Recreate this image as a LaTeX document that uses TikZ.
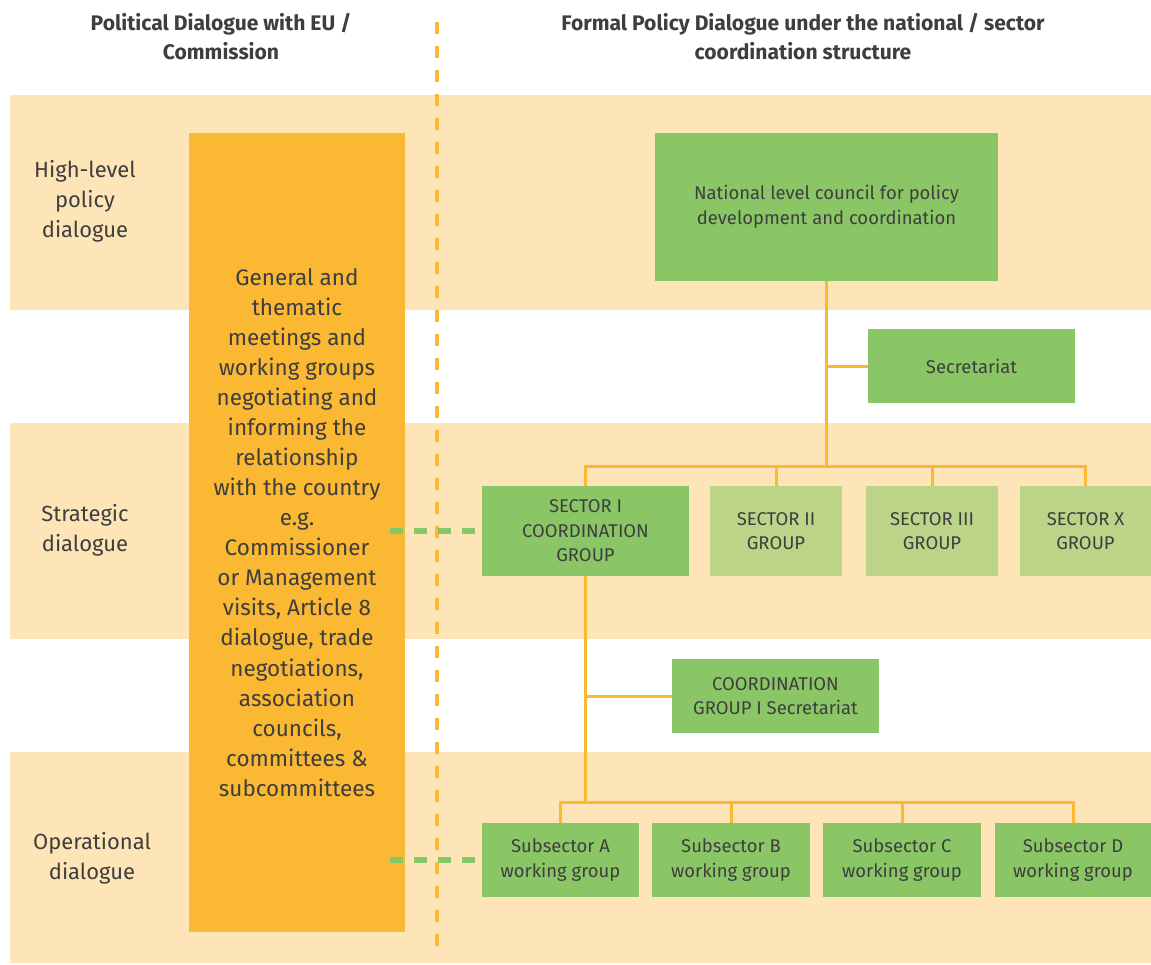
\documentclass[tikz,border=0pt]{standalone}
\usepackage{fontspec}
\setmainfont{Fira Sans}
\usepackage{tikz}

\definecolor{bandcol}{HTML}{FDE5B8}
\definecolor{orangecol}{HTML}{FBB833}
\definecolor{greencol}{HTML}{8AC665}
\definecolor{lightgreen}{HTML}{BBD488}
\definecolor{textcol}{HTML}{3E3E3E}

\tikzset{
	band/.style={fill=bandcol, draw=none},
	gbox/.style={draw=none, fill=greencol, text=textcol, align=center, inner sep=0pt,
		font=\fontsize{10.5}{14}\selectfont},
	lgbox/.style={gbox, fill=lightgreen},
	wire/.style={draw=orangecol, line width=1.7pt},
	gdash/.style={draw=greencol, line width=3.2pt, dash pattern=on 0.26cm off 0.22cm},
	levellabel/.style={text=textcol, align=center, font=\fontsize{12.5}{17}\selectfont},
	header/.style={text=textcol, align=center, font=\fontsize{12}{16.5}\selectfont\bfseries}
}

\begin{document}
\begin{tikzpicture}[x=0.02cm, y=-0.02cm]
				\useasboundingbox (0, 0) rectangle (1151, 964);
				% Bands:
				\fill[band] (10, 95) rectangle (1151, 310);
				\fill[band] (10, 423) rectangle (1151, 639);
				\fill[band] (10, 752) rectangle (1151, 963);
				% Headers and level labels:
				\node[header](H1) at (221, 37){Political Dialogue with EU /\\Commission};
				\node[header](H2) at (803, 37){Formal Policy Dialogue under the national / sector\\coordination structure};
				\node[levellabel](L1) at (85, 201){High-level\\policy\\dialogue};
				\node[levellabel](L2) at (85, 530){Strategic\\dialogue};
				\node[levellabel](L3) at (92, 858){Operational\\dialogue};
				% EU box:
				\node[fill=orangecol, text=textcol, align=center, inner sep=0pt, minimum width=4.32cm, minimum height=15.98cm,
					font=\fontsize{12.8}{17.1}\selectfont](EU) at (297, 532.5){General and\\thematic\\meetings and\\working groups\\negotiating and\\informing the\\relationship\\with the country\\e.g.\\Commissioner\\or Management\\visits, Article 8\\dialogue, trade\\negotiations,\\association\\councils,\\committees \&\\subcommittees};
				\coordinate (top) at (437, 22);
				\coordinate (bottom) at (437, 952);
				\draw[draw=orangecol, line width=2.3pt, dash pattern=on 0.24cm off 0.24cm] (top) -- (bottom);
				% National structure:
				\node[gbox, minimum width=6.86cm, minimum height=2.96cm](NC) at (826.5, 207){National level council for policy\\development and coordination};
				\node[gbox, minimum width=4.14cm, minimum height=1.48cm](SEC) at (971.5, 366){Secretariat};
				\node[gbox, minimum width=4.14cm, minimum height=1.8cm](S1) at (585.5, 531){SECTOR I\\COORDINATION\\GROUP};
				\node[lgbox, minimum width=2.64cm, minimum height=1.8cm](S2) at (776, 531){SECTOR II\\GROUP};
				\node[lgbox, minimum width=2.64cm, minimum height=1.8cm](S3) at (932, 531){SECTOR III\\GROUP};
				\node[lgbox, minimum width=2.62cm, minimum height=1.8cm](SX) at (1085.5, 531){SECTOR X\\GROUP};
				\node[gbox, minimum width=4.14cm, minimum height=1.48cm](CGS) at (775.5, 696){COORDINATION\\GROUP I Secretariat};
				\node[gbox, minimum width=3.14cm, minimum height=1.48cm](SA) at (560.5, 860){Subsector A\\working group};
				\node[gbox, minimum width=3.16cm, minimum height=1.48cm](SB) at (731, 860){Subsector B\\working group};
				\node[gbox, minimum width=3.16cm, minimum height=1.48cm](SC) at (902, 860){Subsector C\\working group};
				\node[gbox, minimum width=3.12cm, minimum height=1.48cm](SD) at (1073, 860){Subsector D\\working group};
				% Wires:
				\coordinate (bus1) at (826.5, 466);
				\coordinate (bus2) at (585.5, 802);
				\draw[wire] (NC.south) -- (bus1);
				\draw[wire] (NC.south |- SEC.west) -- (SEC.west);
				\draw[wire] (S1.north) -- (S1.north |- bus1) -| (SX.north);
				\draw[wire] (S2.north) -- (S2.north |- bus1);
				\draw[wire] (S3.north) -- (S3.north |- bus1);
				\draw[wire] (S1.south) -- (bus2);
				\draw[wire] (S1.south |- CGS.west) -- (CGS.west);
				\draw[wire] (SA.north) -- (SA.north |- bus2) -| (SD.north);
				\draw[wire] (SB.north) -- (SB.north |- bus2);
				\draw[wire] (SC.north) -- (SC.north |- bus2);
				% Links to the EU box:
				\draw[gdash, shorten <=-0.3cm, shorten >=0.14cm] (EU.east |- S1.west) -- (S1.west);
				\draw[gdash, shorten <=-0.3cm, shorten >=0.14cm] (EU.east |- SA.west) -- (SA.west);
			\end{tikzpicture}
\end{document}
